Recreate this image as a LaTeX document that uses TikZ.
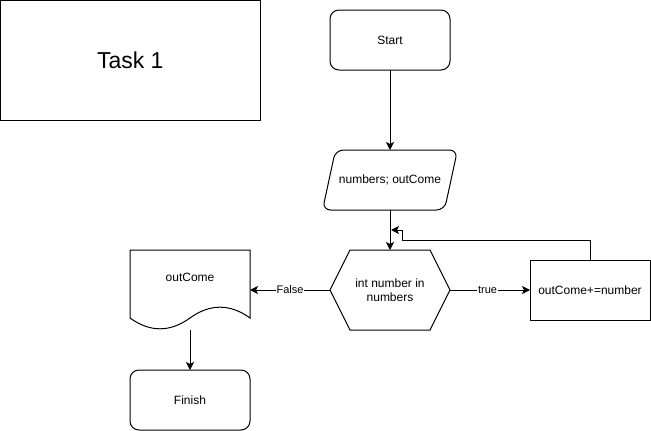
\documentclass[tikz,border=0pt]{standalone}
\usepackage{fontspec}
\setmainfont{Liberation Sans}
\usetikzlibrary{arrows.meta,calc}

\tikzset{
  base/.style={inner sep=0pt, outer sep=0pt, font=\fontsize{12}{14}\selectfont, align=center},
  box/.style={base, draw, line width=1pt},
  rbox/.style={box, rounded corners=9pt},
  shapeline/.style={line width=1pt},
  flow/.style={line width=1pt, -{Stealth[length=8pt,width=8pt,inset=2pt]}},
  edgelabel/.style={fill=white, inner sep=1pt, font=\fontsize{11}{13}\selectfont}
}

\begin{document}
\begin{tikzpicture}[x=1pt, y=-1pt]
  \useasboundingbox (0,0) rectangle (651,431);

  % title box
  \node[box, minimum width=259.5pt, minimum height=119.5pt, font=\fontsize{23}{27}\selectfont]
    (title) at (130.25,60.25) {Task 1};

  % terminals and process
  \node[rbox, minimum width=120pt, minimum height=60pt] (start) at (390,40) {Start};
  \node[rbox, minimum width=120pt, minimum height=60pt] (finish) at (190,400) {Finish};
  \node[box, minimum width=120pt, minimum height=60pt] (proc) at (590,290) {outCome+=number};

  % input / output parallelogram
  \node[base, minimum width=135pt, minimum height=60pt] (io) at (390,180) {numbers; outCome};
  \draw[shapeline, rounded corners=8pt]
    ($(io.north west)+(13,0)$) -- (io.north east) -- ($(io.south east)+(-13,0)$)
    -- (io.south west) -- cycle;

  % loop condition hexagon
  \node[base, minimum width=120pt, minimum height=80pt] (cond) at (390,290) {int number in\\numbers};
  \draw[shapeline]
    (cond.west) -- ($(cond.north west)+(20,0)$) -- ($(cond.north east)+(-20,0)$)
    -- (cond.east) -- ($(cond.south east)+(-20,0)$) -- ($(cond.south west)+(20,0)$) -- cycle;

  % output document
  \node[base, minimum width=120pt, minimum height=80pt] (doc) at (190,290) {};
  \node[base] (doctext) at (190,277) {outCome};
  \draw[shapeline]
    (doc.south west |- 0,318) -- (doc.north west) -- (doc.north east) -- (doc.south east |- 0,318)
    .. controls (230,303.6) and (210,303.6) .. (190,318)
    .. controls (170,332.4) and (150,332.4) .. (doc.south west |- 0,318);

  % connectors
  \draw[flow] (start.south) -- (io.north);
  \draw[flow] (io.south) -- (cond.north);
  \draw[flow] (cond.east) -- node[edgelabel, pos=0.47] {true} (proc.west);
  \draw[flow] (cond.west) -- node[edgelabel, pos=0.5] {False} (doc.east);
  \draw[flow] (doc.south) -- (finish.north);

  \coordinate (join) at (391,230);
  \draw[flow] (proc.north) -- ++(0,-20) -| ($(join)+(11,0)$) -- (join);
\end{tikzpicture}
\end{document}
